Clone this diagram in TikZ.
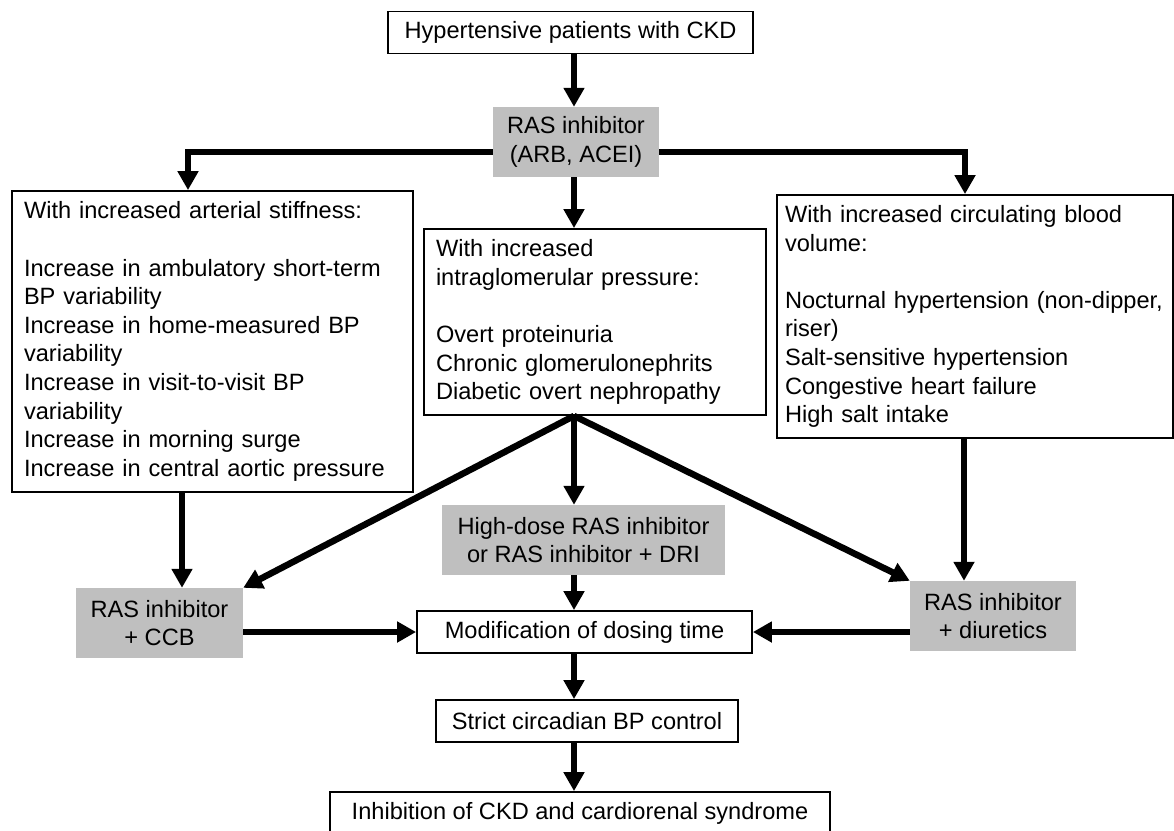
\documentclass[tikz,border=0pt]{standalone}
\usepackage{fontspec}
\setmainfont{Liberation Sans}
\usepackage{tikz}
\usetikzlibrary{arrows.meta}
\definecolor{drugGray}{HTML}{BFBFBF}

\begin{document}
\begin{tikzpicture}[
    x=1pt, y=-1pt,
    font=\fontsize{23.6}{28.6}\selectfont,
    box/.style={rectangle, draw=black, line width=1.8pt, minimum height=42pt, inner xsep=12pt},
    listbox/.style={box, align=left, inner xsep=12pt},
    drug/.style={rectangle, fill=drugGray, minimum height=70pt, align=center},
    arrow/.style={-{Triangle[length=19pt, width=20pt]}, line width=6.5pt}
]
\useasboundingbox (0,0) rectangle (1174,830);
\clip (0,0) rectangle (1174,830);

% Patients
\node[box, minimum width=365pt] (top) at (570.5,32.5) {Hypertensive patients with CKD};

% First-line drug
\node[drug, minimum width=166pt] (ras) at (576,142) {RAS inhibitor\\(ARB, ACEI)};

% Three patient profiles
\node[listbox, text width=377pt, minimum height=301pt] (stiff) at (212.5,341.5)
    {With increased arterial stiffness:\\[28.6pt]
     Increase in ambulatory short-term\\BP variability\\
     Increase in home-measured BP\\variability\\
     Increase in visit-to-visit BP\\variability\\
     Increase in morning surge\\
     Increase in central aortic pressure};
\node[listbox, text width=318pt, minimum height=186pt] (glom) at (595,322)
    {With increased\\intraglomerular pressure:\\[28.6pt]
     Overt proteinuria\\
     Chronic glomerulonephrits\\
     Diabetic overt nephropathy};
\node[listbox, inner xsep=8pt, text width=380pt, minimum height=243pt] (vol) at (975,316.5)
    {With increased circulating blood\\volume:\\[28.6pt]
     Nocturnal hypertension (non-dipper,\\riser)\\
     Salt-sensitive hypertension\\
     Congestive heart failure\\
     High salt intake};

% Combination drugs
\node[drug, minimum width=283pt] (dose) at (583.5,540) {High-dose RAS inhibitor\\or RAS inhibitor + DRI};
\node[drug, minimum width=167pt] (ccb) at (159.5,623) {RAS inhibitor\\+ CCB};
\node[drug, minimum width=166pt] (diur) at (993,616) {RAS inhibitor\\+ diuretics};

% Chronotherapy and outcome
\node[box, minimum width=335pt] (dosing) at (584.5,632) {Modification of dosing time};
\node[box, minimum width=302pt] (strict) at (587,721) {Strict circadian BP control};
\node[box, minimum width=500pt] (goal) at (580,813) {Inhibition of CKD and cardiorenal syndrome};

% Helper coordinates
\coordinate (spine) at (574,0);
\coordinate (lknee) at (188,152);
\coordinate (rknee) at (965,152);
\coordinate (lcol) at (182,0);
\coordinate (rcol) at (964,0);

% Arrows
\draw[arrow] (top.south -| spine) -- (ras.north -| spine);
\draw[arrow] (ras.west |- lknee) -| (stiff.north -| lknee);
\draw[arrow] (ras.east |- rknee) -| (vol.north -| rknee);
\draw[arrow] (ras.south -| spine) -- (glom.north -| spine);
\draw[arrow] (stiff.south -| lcol) -- (ccb.north -| lcol);
\draw[arrow] (vol.south -| rcol) -- (diur.north -| rcol);
\draw[arrow] (glom.south -| spine) -- (ccb.north east);
\draw[arrow] (glom.south -| spine) -- (diur.north west);
\draw[arrow] (glom.south -| spine) -- (dose.north -| spine);
\draw[arrow] (dose.south -| spine) -- (dosing.north -| spine);
\draw[arrow] (ccb.east |- dosing) -- (dosing.west);
\draw[arrow] (diur.west |- dosing) -- (dosing.east);
\draw[arrow] (dosing.south -| spine) -- (strict.north -| spine);
\draw[arrow] (strict.south -| spine) -- (goal.north -| spine);

\end{tikzpicture}
\end{document}
